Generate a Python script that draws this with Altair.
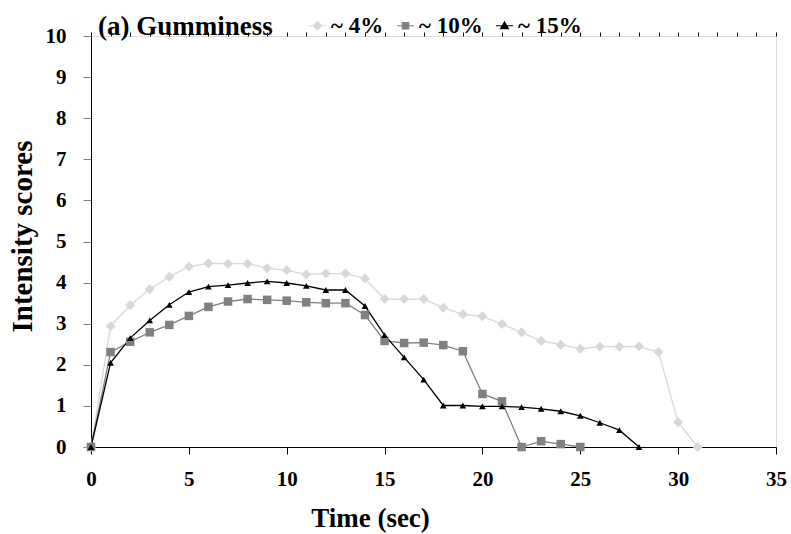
import altair as alt
import pandas as pd

# ---- data ----
time_4 = list(range(0, 32))
val_4 = [0, 2.94, 3.45, 3.84, 4.14, 4.39, 4.47, 4.46, 4.46, 4.35, 4.30, 4.20, 4.22, 4.22,
         4.10, 3.60, 3.60, 3.60, 3.39, 3.23, 3.18, 2.99, 2.79, 2.58, 2.49, 2.39, 2.44, 2.44,
         2.45, 2.31, 0.60, 0]
time_10 = list(range(0, 26))
val_10 = [0, 2.31, 2.56, 2.79, 2.97, 3.19, 3.41, 3.54, 3.60, 3.58, 3.56, 3.52, 3.50, 3.50,
          3.21, 2.58, 2.53, 2.54, 2.48, 2.33, 1.29, 1.11, 0, 0.14, 0.07, 0.0]
time_15 = list(range(0, 29))
val_15 = [0, 2.05, 2.65, 3.08, 3.46, 3.77, 3.90, 3.94, 3.99, 4.03, 3.99, 3.92, 3.82, 3.82,
          3.43, 2.72, 2.18, 1.64, 1.01, 1.01, 0.99, 0.99, 0.97, 0.93, 0.87, 0.76, 0.59, 0.41, 0]

series_names = ["~ 4%", "~ 10%", "~ 15%"]
series_colors = ["#D9D9D9", "#808080", "#000000"]
series_shapes = ["diamond", "square", "triangle-up"]
series_sizes = [100, 45, 60]
legend_shapes = [
    "M-1,0L-0.5,0M0.5,0L1,0M0,-0.5L0.5,0L0,0.5L-0.5,0Z",
    "M-1,0L-0.38,0M0.38,0L1,0M-0.38,-0.38L0.38,-0.38L0.38,0.38L-0.38,0.38Z",
    "M-1,0L1,0M0,-0.45L0.45,0.35L-0.45,0.35Z",
]
x_major = [0, 5, 10, 15, 20, 25, 30, 35]
x_minor = list(range(0, 36))
y_ticks = list(range(0, 11))

rows = []
for name, ts, vs in zip(series_names, [time_4, time_10, time_15], [val_4, val_10, val_15]):
    for t, v in zip(ts, vs):
        rows.append({"series": name, "time": t, "score": v})
df = pd.DataFrame(rows)

FONT = "Liberation Serif"
xscale = alt.Scale(domain=[0, 35], nice=False, zero=False)
yscale = alt.Scale(domain=[0, 10], nice=False)

x_main = alt.X(
    "time:Q", scale=xscale,
    axis=alt.Axis(values=x_major, tickSize=7, tickColor="black", domainColor="black",
                  labelFont=FONT, labelFontWeight="bold", labelFontSize=21, labelColor="black",
                  labelPadding=14, labelFlush=False, grid=False, title="Time (sec)", titleFont=FONT,
                  titleFontSize=27, titleFontWeight="bold", titleColor="black",
                  titleX=279, titleY=79, titleBaseline="alphabetic", titleAlign="center"))
y_main = alt.Y(
    "score:Q", scale=yscale,
    axis=alt.Axis(values=y_ticks, tickSize=8, tickColor="#808080", domainColor="black",
                  labelFont=FONT, labelFontWeight="bold", labelFontSize=21, labelColor="black",
                  labelPadding=17, labelFlush=False, grid=False, title="Intensity scores", titleFont=FONT,
                  titleFontSize=29, titleFontWeight="bold", titleColor="black",
                  titleX=-60, titleY=200, titleBaseline="alphabetic", titleAlign="center",
                  titleAngle=270))

color = alt.Color("series:N", scale=alt.Scale(domain=series_names, range=series_colors), legend=None)

lines = alt.Chart(df).mark_line(strokeWidth=1.3).encode(x=x_main, y=y_main, color=color)
points = alt.Chart(df).mark_point(filled=True, opacity=1).encode(
    x=x_main, y=y_main, color=color,
    shape=alt.Shape("series:N", scale=alt.Scale(domain=series_names, range=series_shapes), legend=None),
    size=alt.Size("series:N", scale=alt.Scale(domain=series_names, range=series_sizes), legend=None),
)
main = alt.layer(lines, points)

leg = alt.Legend(orient="none", legendX=215, legendY=-22, direction="horizontal", title=None,
                 labelFont=FONT, labelFontSize=23, labelFontWeight="bold", labelColor="black",
                 symbolSize=289, symbolStrokeWidth=1.2, labelOffset=2, columnPadding=10)

legend_layer = alt.Chart(df).transform_filter("false").mark_point(
    filled=True, opacity=1, strokeWidth=1.2).encode(
    x=alt.X("time:Q", scale=xscale,
            axis=alt.Axis(values=x_minor, tickSize=4, tickColor="black", labels=False,
                          domain=False, grid=False, title=None)),
    y=alt.Y("score:Q", scale=yscale, axis=None),
    shape=alt.Shape("series:N", scale=alt.Scale(domain=series_names, range=legend_shapes), legend=leg),
    fill=alt.Fill("series:N", scale=alt.Scale(domain=series_names, range=series_colors), legend=leg),
    stroke=alt.Stroke("series:N", scale=alt.Scale(domain=series_names, range=series_colors), legend=leg),
)

chart = alt.layer(main, legend_layer).resolve_scale(
    shape="independent", fill="independent", stroke="independent"
).resolve_axis(
    x="independent", y="independent"
).properties(
    width=685, height=411,
    autosize=alt.AutoSizeParams(type="none"),
    padding={"left": 91, "top": 36, "right": 15, "bottom": 87},
    title=alt.Title("(a) Gumminess", anchor="start", font=FONT, fontSize=27, fontWeight="bold",
                    color="black", offset=5, dx=7, dy=53, baseline="alphabetic", frame="group"),
).configure_view(stroke=None).configure(background="white")

chart.save("out.html", embed_options={"renderer": "svg", "actions": False})
